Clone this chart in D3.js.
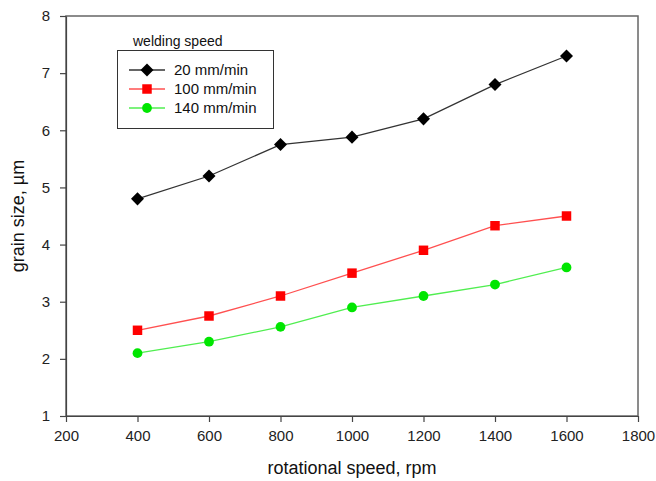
<!DOCTYPE html>
<html>
<head>
<meta charset="utf-8">
<script src="https://cdn.jsdelivr.net/npm/d3@7/dist/d3.min.js"></script>
<style>
  html, body { margin: 0; padding: 0; background: #fff; }
  svg { display: block; font-family: "Liberation Sans", Arial, sans-serif; }
</style>
</head>
<body>
<div id="chart"></div>
<script>
const rpm = [400, 600, 800, 1000, 1200, 1400, 1600];
const speed20 = [4.8, 5.2, 5.75, 5.88, 6.2, 6.8, 7.3];
const speed100 = [2.5, 2.75, 3.1, 3.5, 3.9, 4.33, 4.5];
const speed140 = [2.1, 2.3, 2.56, 2.9, 3.1, 3.3, 3.6];
const xTicks = [200, 400, 600, 800, 1000, 1200, 1400, 1600, 1800];
const yTicks = [1, 2, 3, 4, 5, 6, 7, 8];

const series = [
  { name: '20 mm/min', values: speed20, line: '#333', fill: '#000', shape: d3.symbolSquare, size: 85, rot: 45 },
  { name: '100 mm/min', values: speed100, line: '#ff5050', fill: '#ff0000', shape: d3.symbolSquare, size: 90, rot: 0 },
  { name: '140 mm/min', values: speed140, line: '#50ee50', fill: '#00e600', shape: d3.symbolCircle, size: 75, rot: 0 },
];

const width = 656, height = 481;
const margin = { top: 16, right: 18, bottom: 65, left: 66 };
const innerW = width - margin.left - margin.right;
const innerH = height - margin.top - margin.bottom;

const svg = d3.select('#chart').append('svg')
  .attr('width', width)
  .attr('height', height);

const g = svg.append('g').attr('transform', `translate(${margin.left},${margin.top})`);

const x = d3.scaleLinear().domain([200, 1800]).range([0, innerW]);
const y = d3.scaleLinear().domain([1, 8]).range([innerH, 0]);

const axisColor = '#444';

// frame
g.append('rect')
  .attr('x', 0).attr('y', 0)
  .attr('width', innerW).attr('height', innerH)
  .attr('fill', 'none')
  .attr('stroke', '#666')
  .attr('stroke-width', 1.5);

const axX = g.append('g')
  .attr('transform', `translate(0,${innerH})`)
  .call(d3.axisBottom(x).tickValues(xTicks).tickFormat(d3.format('d')).tickSize(6).tickSizeOuter(0).tickPadding(8));
axX.selectAll('text').style('font-size', '15px').style('fill', '#222');
axX.selectAll('line, path').style('stroke', axisColor).style('stroke-width', 1.2);

const axY = g.append('g')
  .call(d3.axisLeft(y).tickValues(yTicks).tickFormat(d3.format('d')).tickSize(6).tickSizeOuter(0).tickPadding(10));
axY.selectAll('text').style('font-size', '15px').style('fill', '#222');
axY.selectAll('line, path').style('stroke', axisColor).style('stroke-width', 1.2);

// axis titles
svg.append('text')
  .attr('x', margin.left + innerW / 2)
  .attr('y', 474)
  .attr('text-anchor', 'middle')
  .style('font-size', '18px')
  .style('fill', '#111')
  .text('rotational speed, rpm');

svg.append('text')
  .attr('transform', `translate(24,${margin.top + innerH / 2}) rotate(-90)`)
  .attr('text-anchor', 'middle')
  .style('font-size', '18px')
  .style('fill', '#111')
  .text('grain size, µm');

const line = d3.line().x((d) => x(d[0])).y((d) => y(d[1]));

series.forEach((s) => {
  const pts = rpm.map((r, i) => [r, s.values[i]]);
  g.append('path')
    .datum(pts)
    .attr('fill', 'none')
    .attr('stroke', s.line)
    .attr('stroke-width', 1.3)
    .attr('d', line);
  g.selectAll(null)
    .data(pts)
    .join('path')
    .attr('transform', (d) => `translate(${x(d[0])},${y(d[1])}) rotate(${s.rot})`)
    .attr('d', d3.symbol().type(s.shape).size(s.size))
    .attr('fill', s.fill);
});

// legend
const leg = svg.append('g');
leg.append('text')
  .attr('x', 133).attr('y', 46)
  .style('font-size', '14px')
  .style('fill', '#111')
  .text('welding speed');
leg.append('rect')
  .attr('x', 117.5).attr('y', 50.5)
  .attr('width', 156).attr('height', 78)
  .attr('fill', '#fff')
  .attr('stroke', '#333')
  .attr('stroke-width', 1);

series.forEach((s, i) => {
  const ly = 70 + i * 19;
  leg.append('line')
    .attr('x1', 129).attr('x2', 165)
    .attr('y1', ly).attr('y2', ly)
    .attr('stroke', s.line)
    .attr('stroke-width', 1.3);
  leg.append('path')
    .attr('transform', `translate(147,${ly}) rotate(${s.rot})`)
    .attr('d', d3.symbol().type(s.shape).size(s.size))
    .attr('fill', s.fill);
  leg.append('text')
    .attr('x', 174).attr('y', ly + 5)
    .style('font-size', '15px')
    .style('fill', '#111')
    .text(s.name);
});
</script>
</body>
</html>
